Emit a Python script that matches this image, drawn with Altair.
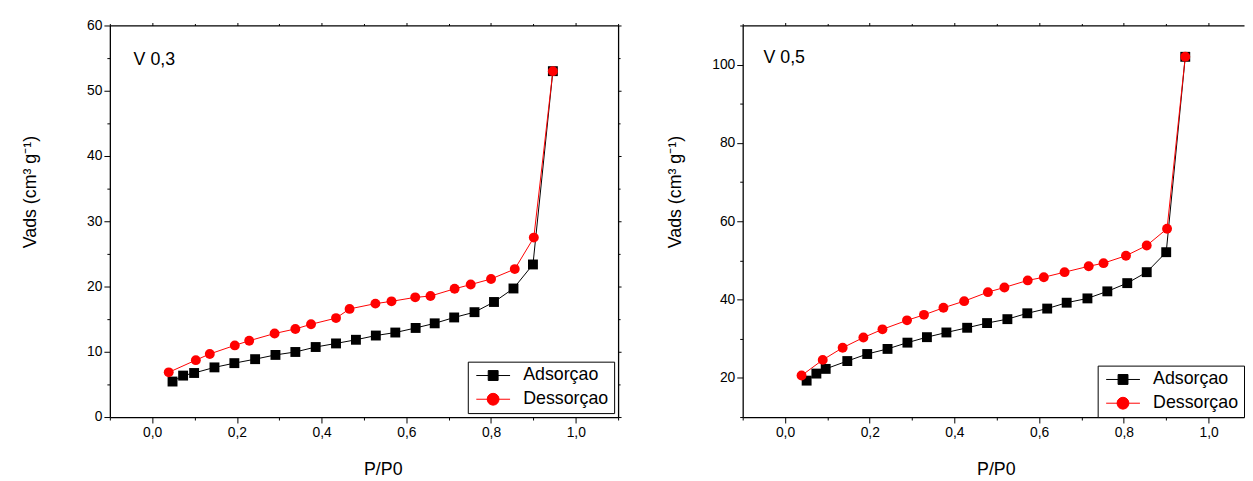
import altair as alt
import pandas as pd

series_names = ["Adsorçao", "Dessorçao"]
series_colors = ["black", "red"]

# Panel V 0,3
v03_ads_x = [0.048, 0.073, 0.099, 0.147, 0.194, 0.243, 0.291, 0.338, 0.386, 0.434, 0.481,
             0.528, 0.574, 0.622, 0.667, 0.713, 0.761, 0.807, 0.853, 0.899, 0.946]
v03_ads_y = [5.44, 6.35, 6.75, 7.61, 8.26, 8.87, 9.52, 9.97, 10.73, 11.28, 11.84,
             12.49, 12.95, 13.65, 14.36, 15.26, 16.07, 17.63, 19.70, 23.38, 53.0]
v03_des_x = [0.039, 0.103, 0.136, 0.195, 0.229, 0.289, 0.338, 0.375, 0.434, 0.466,
             0.527, 0.565, 0.621, 0.657, 0.714, 0.752, 0.800, 0.856, 0.901, 0.946]
v03_des_y = [6.85, 8.72, 9.67, 10.98, 11.69, 12.80, 13.50, 14.21, 15.16, 16.57,
             17.38, 17.73, 18.34, 18.54, 19.65, 20.30, 21.16, 22.67, 27.5, 53.0]

# Panel V 0,5
v05_ads_x = [0.051, 0.074, 0.096, 0.147, 0.194, 0.242, 0.289, 0.335, 0.381, 0.430, 0.477,
             0.525, 0.572, 0.619, 0.665, 0.714, 0.761, 0.808, 0.854, 0.900, 0.945]
v05_ads_y = [19.3, 21.1, 22.3, 24.3, 26.1, 27.4, 29.0, 30.4, 31.6, 32.8, 34.0,
             35.0, 36.5, 37.7, 39.2, 40.3, 42.1, 44.2, 47.0, 52.1, 102.0]
v05_des_x = [0.039, 0.089, 0.136, 0.185, 0.230, 0.288, 0.328, 0.374, 0.423, 0.479,
             0.518, 0.573, 0.611, 0.660, 0.717, 0.752, 0.805, 0.854, 0.902, 0.945]
v05_des_y = [20.6, 24.6, 27.7, 30.3, 32.4, 34.7, 36.1, 37.9, 39.6, 41.9,
             43.1, 44.9, 45.7, 47.0, 48.5, 49.3, 51.2, 53.8, 58.1, 102.0]

x_ticks = [-0.1, 0.0, 0.1, 0.2, 0.3, 0.4, 0.5, 0.6, 0.7, 0.8, 0.9, 1.0, 1.1]
y_ticks_03 = [0, 5, 10, 15, 20, 25, 30, 35, 40, 45, 50, 55, 60]
y_ticks_05 = [10, 20, 30, 40, 50, 60, 70, 80, 90, 100, 110]

# x range of each panel (the right panel is cropped by the picture edge)
x_dom_03 = [-0.1, 1.1]
x_dom_05 = [-0.1, 1.0837]

x_title = "P/P0"
y_title = "Vads (cm³ g⁻¹)"
FONT = "Liberation Sans"

# legend symbols: line with a square / circle on it
SQ_PATH = "M-1.08,0H5.75M1.33,-1H3.33V1H1.33Z"
CI_PATH = "M-1.08,0H5.75M1.12,0A1.2,1.2,0,1,0,3.52,0A1.2,1.2,0,1,0,1.12,0Z"

X_MAJOR = "round(datum.value*10) % 2 == 0"
X_LABEL = ("round(datum.value*10) % 2 == 0 ? "
           "replace(format(datum.value, '.1f'), '.', ',') : ''")


def panel(ax, ay, dx, dy, xdom, ydom, yticks, ystep, label, title_pad, tx, ty,
          xtitle_x, w, right_axis, leg_offset):
    df = pd.DataFrame({
        "x": ax + dx,
        "y": ay + dy,
        "series": [series_names[0]] * len(ax) + [series_names[1]] * len(dx),
    })
    cs = alt.Scale(domain=series_names, range=series_colors)
    y_major = f"datum.value % {ystep} == 0"

    x_axis = alt.Axis(values=x_ticks, tickCount=60, labelExpr=X_LABEL, title=x_title,
                      tickSize={"condition": {"test": X_MAJOR, "value": 6}, "value": 3},
                      labelFontSize=14, titleFontSize=18, labelPadding=3,
                      titlePadding=21, grid=False, labelOverlap=False,
                      labelFlush=False, titleX=xtitle_x)
    y_axis = alt.Axis(values=yticks, tickCount=60,
                      labelExpr=f"{y_major} ? format(datum.value, 'd') : ''",
                      title=y_title,
                      tickSize={"condition": {"test": y_major, "value": 6}, "value": 3},
                      labelFontSize=14, titleFontSize=18, labelPadding=2,
                      titlePadding=title_pad, grid=False, labelOverlap=False,
                      labelFlush=False, titleY=168)
    x_top = alt.Axis(orient="top", values=x_ticks, tickCount=60, labels=False, title=None,
                     tickSize={"condition": {"test": X_MAJOR, "value": 3}, "value": 2},
                     grid=False)
    y_right = alt.Axis(orient="right", values=yticks, tickCount=60, labels=False, title=None,
                       tickSize={"condition": {"test": y_major, "value": 3}, "value": 2},
                       grid=False)

    base = alt.Chart(df)
    lines = base.mark_line(strokeWidth=1).encode(
        x=alt.X("x:Q", scale=alt.Scale(domain=xdom, nice=False, zero=False), axis=x_axis),
        y=alt.Y("y:Q", scale=alt.Scale(domain=ydom, nice=False, zero=False), axis=y_axis),
        color=alt.Color("series:N", scale=cs, legend=None),
    )
    squares = base.transform_filter(
        alt.datum.series == series_names[0]
    ).mark_square(size=100, color="black", opacity=1).encode(
        x="x:Q", y="y:Q")
    circles = base.transform_filter(
        alt.datum.series == series_names[1]
    ).mark_circle(size=100, color="red", opacity=1).encode(
        x="x:Q", y="y:Q")
    note = alt.Chart(pd.DataFrame({"t": [label]})).mark_text(
        align="left", baseline="middle", fontSize=18, font=FONT, color="black"
    ).encode(text="t:N", x=alt.value(tx), y=alt.value(ty))

    inner = alt.layer(lines, squares, circles, note)

    leg = alt.Legend(title=None, orient="bottom-right", offset=leg_offset,
                     strokeColor="black", fillColor="white", padding=5,
                     labelFontSize=18, labelFont=FONT, labelColor="black",
                     rowPadding=6, labelOffset=33, symbolStrokeWidth=1,
                     cornerRadius=0)
    enc = dict(
        x=alt.X("x:Q", scale=alt.Scale(domain=xdom, nice=False, zero=False), axis=x_top),
        color=alt.Color("series:N", scale=cs, legend=leg),
        stroke=alt.Stroke("series:N", scale=alt.Scale(domain=series_names, range=series_colors), legend=leg),
        shape=alt.Shape("series:N", scale=alt.Scale(domain=series_names, range=[SQ_PATH, CI_PATH]), legend=leg),
    )
    if right_axis:
        enc["y"] = alt.Y("y:Q", scale=alt.Scale(domain=ydom, nice=False, zero=False), axis=y_right)
    frame = base.transform_filter("false").mark_point(
        filled=True, size=144, opacity=1
    ).encode(**enc)
    return alt.layer(frame, inner).resolve_scale(x="independent", y="independent").properties(
        width=w, height=396)


left = panel(v03_ads_x, v03_ads_y, v03_des_x, v03_des_y, x_dom_03, [0, 60], y_ticks_03, 10,
             "V 0,3", 48, 24, 35, 276, 514, True, 4)
right = panel(v05_ads_x, v05_ads_y, v05_des_x, v05_des_y, x_dom_05, [10, 110], y_ticks_05, 20,
              "V 0,5", 28, 21, 33, 256, 507, False, 0)

chart = alt.hconcat(left, right, spacing=44).resolve_scale(
    color="independent", stroke="independent", shape="independent"
).resolve_legend(
    color="independent", stroke="independent", shape="independent"
).properties(
    padding={"left": 13, "top": 8, "right": 0, "bottom": 0}
).configure_view(strokeWidth=0).configure_axis(
    domainColor="black", domainWidth=1.3, tickColor="black", tickWidth=1,
    labelColor="black", titleColor="black", labelFont=FONT, titleFont=FONT,
    titleFontWeight="normal"
).configure_legend(strokeWidth=1)

chart.save("out.html", embed_options={"renderer": "svg", "actions": False})
